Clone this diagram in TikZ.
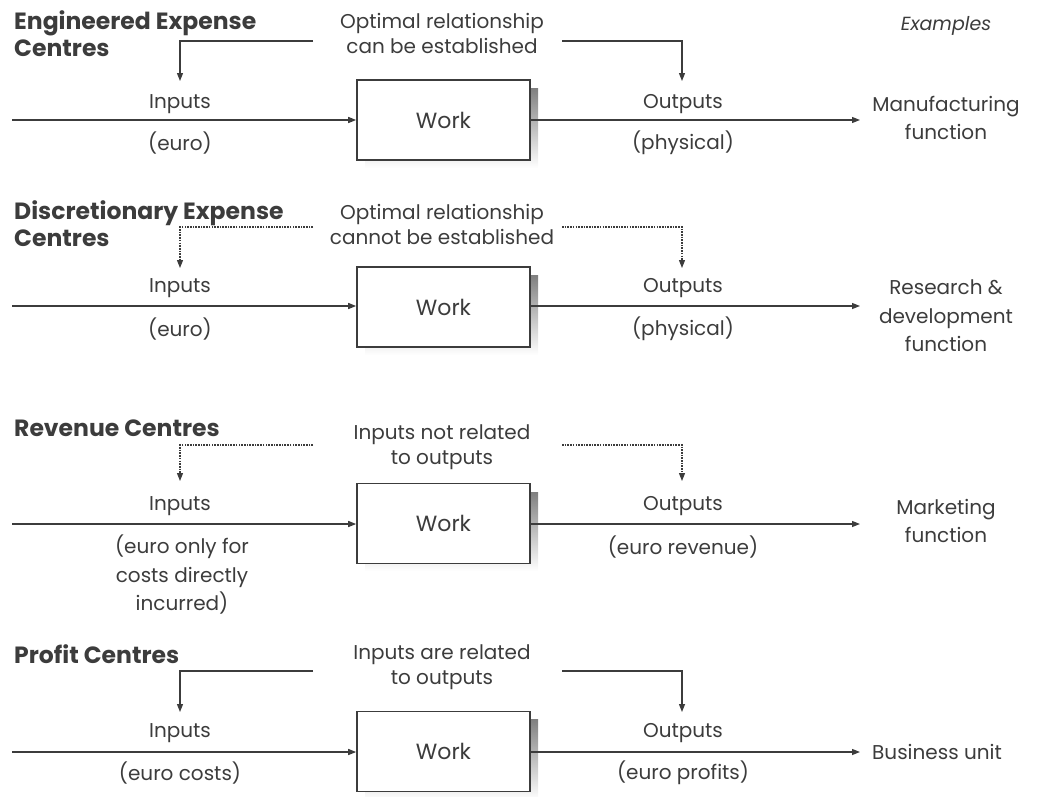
\documentclass[tikz,border=0pt]{standalone}
\usepackage{fontspec}
\setmainfont{Poppins}
\usetikzlibrary{arrows.meta}
\definecolor{ink}{HTML}{3C3C3C}
\definecolor{shade}{HTML}{A8A8A8}
\tikzset{
  txt/.style={font=\fontsize{20}{25}\selectfont, text=ink, inner sep=0pt, align=center},
  tall/.style={font=\fontsize{20}{28.5}\selectfont},
  ttl/.style={font=\fontsize{23.5}{27}\selectfont\bfseries, text=ink, inner sep=0pt, anchor=west, align=left},
  workbox/.style={draw=ink, line width=1.6pt, fill=white, minimum width=173pt, minimum height=80pt, font=\fontsize{22}{26}\selectfont, text=ink},
  arr/.style={draw=ink, line width=1.3pt, -{Triangle[length=8pt,width=6pt]}},
  sol/.style={draw=ink, line width=1.3pt, -{Triangle[length=8pt,width=6pt]}},
  dot/.style={draw=ink, line width=1.1pt, dash pattern=on 1.6pt off 1.1pt, -{Triangle[length=8pt,width=6pt]}},
}
\begin{document}
\begin{tikzpicture}[x=1pt,y=-1pt]
\useasboundingbox (0,0) rectangle (1037,796);

% ---------- Row 1: Engineered ----------
\node[ttl] (t1) at (14,34) {Engineered Expense\\Centres};
\node[txt] (r1) at (442,33) {Optimal relationship\\can be established};
\node[txt, font=\fontsize{19}{22}\selectfont\itshape] (exh) at (946,26) {Examples};
\fill[shade] (365,88) rectangle (538,168);
\node[workbox] (w1) at (443.5,120) {Work};
\coordinate (s1) at (12,120);
\coordinate (e1) at (860,120);
\draw[arr] (s1) -- (w1.west);
\draw[arr] (w1.east) -- (e1);
\node[txt] (i1) at (180,104) {Inputs};
\node[txt] (ie1) at (180,143) {(euro)};
\node[txt] (o1) at (683,104) {Outputs};
\node[txt] (oe1) at (683,143) {(physical)};
\node[txt, tall] (x1) at (946,118) {Manufacturing\\function};
\coordinate (a1) at (313,41); \coordinate (a1t) at (180,81);
\coordinate (b1) at (562,41); \coordinate (b1t) at (682,81);
\draw[sol] (a1) -| (a1t);
\draw[sol] (b1) -| (b1t);

% ---------- Row 2: Discretionary ----------
\node[ttl] (t2) at (14,224) {Discretionary Expense\\Centres};
\node[txt] (r2) at (442,224) {Optimal relationship\\cannot be established};
\fill[shade] (365,275) rectangle (538,355);
\node[workbox] (w2) at (443.5,307) {Work};
\coordinate (s2) at (12,306);
\coordinate (e2) at (860,306);
\draw[arr] (s2) -- (w2.west |- s2);
\draw[arr] (w2.east |- s2) -- (e2);
\node[txt] (i2) at (180,288) {Inputs};
\node[txt] (ie2) at (180,329) {(euro)};
\node[txt] (o2) at (683,288) {Outputs};
\node[txt] (oe2) at (683,329) {(physical)};
\node[txt, tall] (x2) at (946,316) {Research \&\\development\\function};
\coordinate (a2) at (313,227); \coordinate (a2t) at (180,268);
\coordinate (b2) at (562,227); \coordinate (b2t) at (682,268);
\draw[dot] (a2) -| (a2t);
\draw[dot] (b2) -| (b2t);

% ---------- Row 3: Revenue ----------
\node[ttl] (t3) at (14,428) {Revenue Centres};
\node[txt] (r3) at (442,447) {Inputs not related\\to outputs};
\fill[shade] (365,492) rectangle (538,571);
\node[workbox] (w3) at (443.5,523.5) {Work};
\coordinate (s3) at (12,524);
\coordinate (e3) at (860,524);
\draw[arr] (s3) -- (w3.west |- s3);
\draw[arr] (w3.east |- s3) -- (e3);
\node[txt] (i3) at (180,506) {Inputs};
\node[txt, tall] (ie3) at (182,575) {(euro only for\\costs directly\\incurred)};
\node[txt] (o3) at (683,506) {Outputs};
\node[txt] (oe3) at (683,547) {(euro revenue)};
\node[txt, tall] (x3) at (946,521) {Marketing\\function};
\coordinate (a3) at (313,445); \coordinate (a3t) at (180,481);
\coordinate (b3) at (562,445); \coordinate (b3t) at (682,481);
\draw[dot] (a3) -| (a3t);
\draw[dot] (b3) -| (b3t);

% ---------- Row 4: Profit ----------
\node[ttl] (t4) at (14,654) {Profit Centres};
\node[txt] (r4) at (442,667) {Inputs are related\\to outputs};
\fill[shade] (365,719) rectangle (538,800);
\node[workbox] (w4) at (443.5,751.5) {Work};
\coordinate (s4) at (12,752);
\coordinate (e4) at (860,752);
\draw[arr] (s4) -- (w4.west |- s4);
\draw[arr] (w4.east |- s4) -- (e4);
\node[txt] (i4) at (180,733) {Inputs};
\node[txt] (ie4) at (180,773) {(euro costs)};
\node[txt] (o4) at (683,733) {Outputs};
\node[txt] (oe4) at (683,773) {(euro profits)};
\node[txt, anchor=west] (x4) at (872,752) {Business unit};
\coordinate (a4) at (313,671); \coordinate (a4t) at (180,712);
\coordinate (b4) at (562,671); \coordinate (b4t) at (682,712);
\draw[sol] (a4) -| (a4t);
\draw[sol] (b4) -| (b4t);
\end{tikzpicture}
\end{document}
